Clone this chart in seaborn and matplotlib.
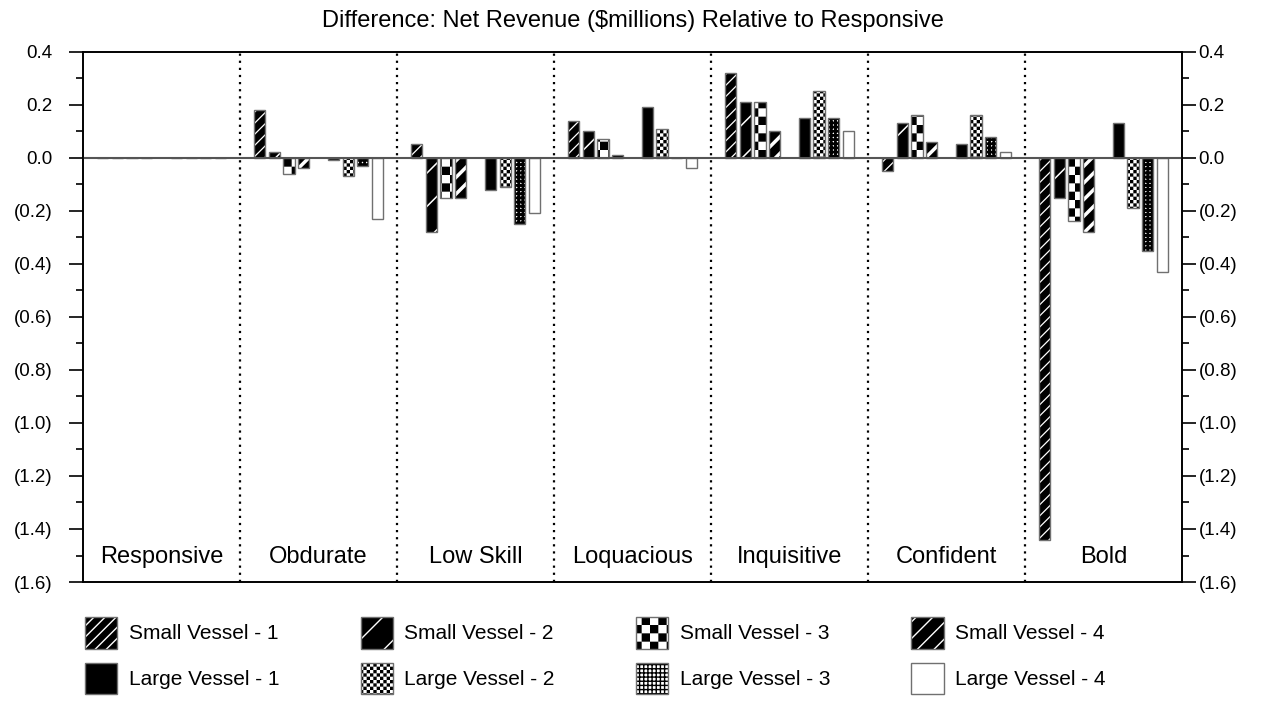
import warnings
import numpy as np
import pandas as pd
import seaborn as sns
import matplotlib.pyplot as plt
from matplotlib import hatch as mhatch
from matplotlib.path import Path
from matplotlib.patches import Patch
from matplotlib.colors import to_rgba
from matplotlib.ticker import FuncFormatter, MultipleLocator
from matplotlib.transforms import blended_transform_factory

warnings.filterwarnings("ignore")

# data ($ millions, difference vs Responsive)
groups = ["Responsive", "Obdurate", "Low Skill", "Loquacious",
          "Inquisitive", "Confident", "Bold"]
series = ["Small Vessel - 1", "Small Vessel - 2", "Small Vessel - 3", "Small Vessel - 4",
          "Large Vessel - 1", "Large Vessel - 2", "Large Vessel - 3", "Large Vessel - 4"]

small_1 = [0.00, 0.18, 0.05, 0.14, 0.32, -0.05, -1.44]
small_2 = [0.00, 0.02, -0.28, 0.10, 0.21, 0.13, -0.15]
small_3 = [0.00, -0.06, -0.15, 0.07, 0.21, 0.16, -0.24]
small_4 = [0.00, -0.04, -0.15, 0.01, 0.10, 0.06, -0.28]
large_1 = [0.00, -0.01, -0.12, 0.19, 0.15, 0.05, 0.13]
large_2 = [0.00, -0.07, -0.11, 0.11, 0.25, 0.16, -0.19]
large_3 = [0.00, -0.03, -0.25, 0.00, 0.15, 0.08, -0.35]
large_4 = [0.00, -0.23, -0.21, -0.04, 0.10, 0.02, -0.43]

# face colour, hatch, hatch colour, hatch linewidth
styles = {
    "Small Vessel - 1": ("black", "///", "white", 0.9),
    "Small Vessel - 2": ("black", "/", "white", 1.1),
    "Small Vessel - 3": ("white", "cc", "black", 1.0),
    "Small Vessel - 4": ("black", "//", "white", 2.5),
    "Large Vessel - 1": ("black", None, "black", 1.0),
    "Large Vessel - 2": ("white", "ccccc", "black", 1.0),
    "Large Vessel - 3": ("white", "++++", "black", 2.0),
    "Large Vessel - 4": ("white", None, "black", 1.0),
}
EDGE = "#707070"


# checkerboard hatch ('c'), not part of matplotlib's built-in patterns
class Checker(mhatch.HatchPatternBase):
    def __init__(self, hatch, density):
        self.n = hatch.count("c") * int(density)
        self.num_vertices = self.n * self.n // 2 * 5

    def set_vertices_and_codes(self, vertices, codes):
        s = 1.0 / self.n
        d = 1.0 / 144
        sq = np.array([[d, d], [s - d, d], [s - d, s - d], [d, s - d], [d, d]])
        cells = [(i, j) for i in range(self.n) for j in range(self.n) if (i + j) % 2 == 0]
        vertices[:] = np.concatenate([sq + [i * s, j * s] for i, j in cells])
        codes[:] = np.tile([Path.MOVETO] + [Path.LINETO] * 3 + [Path.CLOSEPOLY], len(cells))


mhatch._hatch_types.append(Checker)


def style_patch(p, name):
    fc, h, hc, hlw = styles[name]
    p.set_facecolor(fc)
    p.set_hatch(h)
    p._hatch_color = to_rgba(hc)
    if hasattr(p, "set_hatch_linewidth"):
        p.set_hatch_linewidth(hlw)


def money(v, _):
    return f"({abs(v):.1f})" if v < -1e-9 else f"{abs(v):.1f}"


wide = pd.DataFrame(dict(zip(series, [small_1, small_2, small_3, small_4,
                                      large_1, large_2, large_3, large_4])), index=groups)
df = wide.reset_index(names="group").melt(id_vars="group", var_name="series", value_name="value")

hue_order = series[:4] + [" "] + series[4:]   # empty slot between small and large
palette = {s: styles[s][0] for s in series}
palette[" "] = "white"

sns.set_theme(style="ticks")
plt.rcParams["font.family"] = ["Liberation Sans", "DejaVu Sans"]
plt.rcParams["hatch.linewidth"] = 1.0
plt.rcParams["text.color"] = "black"
plt.rcParams["ytick.labelcolor"] = "black"

fig = plt.figure(figsize=(12.62, 7.02), dpi=100)
ax = fig.add_axes([0.0658, 0.1709, 0.8708, 0.7555])

group_width = 0.846
sns.barplot(data=df, x="group", y="value", hue="series", hue_order=hue_order,
            palette=palette, saturation=1, width=group_width, gap=0.25,
            errorbar=None, legend=False, edgecolor=EDGE, linewidth=1, ax=ax)

slot = group_width / len(hue_order)
for p in ax.patches:
    xc = p.get_x() + p.get_width() / 2
    k = int(round((xc - round(xc) + group_width / 2) / slot - 0.5))
    style_patch(p, hue_order[k])

ax.axhline(0, color="#555555", lw=1.5, zorder=3)
for x in np.arange(0.5, len(groups) - 1, 1):
    ax.axvline(x, color="black", ls=(0, (1, 2.2)), lw=1.6, zorder=0)

ax.set_xlim(-0.5, len(groups) - 0.5)
ax.set_ylim(-1.6, 0.4)
ax.set_xticks([])
ax.set_xlabel("")
ax.set_ylabel("")

# right-hand copy of the value axis sits closer to its tick labels
ax2 = ax.twinx()
ax2.set_ylim(ax.get_ylim())
for a, pad in ((ax, 12), (ax2, 2)):
    a.yaxis.set_major_locator(MultipleLocator(0.2))
    a.yaxis.set_minor_locator(MultipleLocator(0.1))
    a.yaxis.set_major_formatter(FuncFormatter(money))
    a.tick_params(axis="y", which="both", direction="out", labelsize=13.5,
                  color="black", labelcolor="black", width=1.2, pad=pad)
    a.tick_params(axis="y", which="major", length=10)
    a.tick_params(axis="y", which="minor", length=5)
    for sp in a.spines.values():
        sp.set_visible(True)
        sp.set_color("black")
        sp.set_linewidth(1.2)

trans = blended_transform_factory(ax.transData, ax.transAxes)
for i, g in enumerate(groups):
    ax.text(i, 0.047, g, transform=trans, ha="center", va="center", fontsize=17, color="black")

fig.text(0.5012, 1 - 21 / 702, "Difference: Net Revenue ($millions) Relative to Responsive",
         ha="center", va="center", fontsize=17, color="black")

handles, labels = [], []
for c in range(4):
    for name in (series[c], series[c + 4]):
        hp = Patch(facecolor=styles[name][0], edgecolor=EDGE, linewidth=1)
        style_patch(hp, name)
        handles.append(hp)
        labels.append(name)

leg = fig.legend(handles, labels, ncol=4, loc="upper left", bbox_to_anchor=(0.0674, 1 - 617 / 702),
                 frameon=False, fontsize=15, handlelength=1.55, handleheight=1.95,
                 handletextpad=0.55, columnspacing=3.9, labelspacing=0.68,
                 borderpad=0, borderaxespad=0)
for t in leg.get_texts():
    t.set_color("black")

fig.savefig("out.png", dpi=100)
